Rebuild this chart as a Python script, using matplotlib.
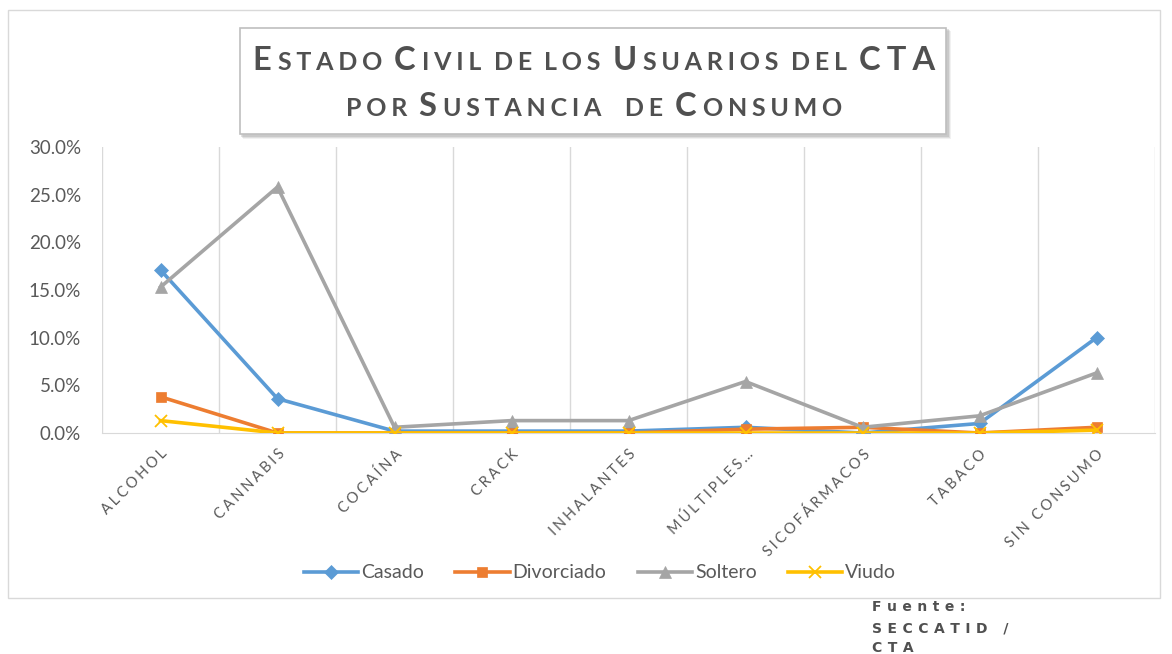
import matplotlib
matplotlib.use("Agg")
import matplotlib.pyplot as plt
from matplotlib.patches import Rectangle
from matplotlib.offsetbox import TextArea, HPacker, AnnotationBbox
from matplotlib.ticker import PercentFormatter

categories = ["ALCOHOL", "CANNABIS", "COCAÍNA", "CRACK", "INHALANTES",
              "MÚLTIPLES…", "SICOFÁRMACOS", "TABACO", "SIN CONSUMO"]
casado = [17.1, 3.6, 0.2, 0.2, 0.2, 0.6, 0.0, 1.0, 10.0]
divorciado = [3.8, 0.0, 0.0, 0.0, 0.0, 0.4, 0.6, 0.0, 0.6]
soltero = [15.3, 25.8, 0.6, 1.3, 1.3, 5.4, 0.6, 1.8, 6.3]
viudo = [1.3, 0.0, 0.0, 0.0, 0.0, 0.0, 0.0, 0.0, 0.3]
yticks = [0, 5, 10, 15, 20, 25, 30]

FONT = ["Lato", "DejaVu Sans"]
W, H = 1172, 654
fig = plt.figure(figsize=(W / 100, H / 100), dpi=100)
fig.patch.set_facecolor("white")

def fx(px):
    return px / W

def fy(py):
    return 1 - py / H

def spread(s, sep="\u2009"):
    return sep.join(list(s))

# outer chart frame
fig.add_artist(Rectangle((fx(8), fy(598)), fx(1160) - fx(8), fy(10) - fy(598),
                         transform=fig.transFigure, fill=False, edgecolor="#D9D9D9", lw=1))

ax = fig.add_axes([fx(102), fy(433), fx(1155) - fx(102), fy(147) - fy(433)])
x = list(range(len(categories)))
series = [
    ("Casado", casado, "#5B9BD5", "D", 7),
    ("Divorciado", divorciado, "#ED7D31", "s", 7),
    ("Soltero", soltero, "#A5A5A5", "^", 8),
    ("Viudo", viudo, "#FFC000", "x", 9),
]
for name, vals, col, mk, ms in series:
    ax.plot(x, vals, color=col, lw=2.6, marker=mk, markersize=ms,
            markeredgewidth=1.3 if mk == "x" else 0.5, markeredgecolor=col,
            markerfacecolor=col, label=name, solid_joinstyle="round", zorder=3)

ax.set_xlim(-0.5, len(categories) - 0.5)
ax.set_ylim(0, 30)
ax.set_yticks(yticks)
ax.yaxis.set_major_formatter(PercentFormatter(decimals=1))
for b in [i - 0.5 for i in range(len(categories) + 1)]:
    ax.axvline(b, color="#D9D9D9", lw=1, zorder=1)
for s in ["top", "right", "left"]:
    ax.spines[s].set_visible(False)
ax.spines["bottom"].set_color("#D9D9D9")
ax.tick_params(axis="y", length=0, pad=15, labelsize=13.5, labelcolor="#595959")
ax.tick_params(axis="x", length=0, pad=10)
for lab in ax.get_yticklabels():
    lab.set_fontfamily(FONT)
ax.set_xticks(x)
ax.set_xticklabels([spread(c, "\u2009\u200a") for c in categories], rotation=45, ha="right",
                   va="top", rotation_mode="anchor", fontsize=10.5, color="#595959", family=FONT)

leg = fig.legend(loc="center", bbox_to_anchor=(fx(600), fy(573)), ncol=4, frameon=False,
                 handlelength=2.8, columnspacing=1.6, handletextpad=0.15,
                 prop={"family": FONT, "size": 14})
for t in leg.get_texts():
    t.set_color("#595959")

# title box with shadow
for i, a in enumerate([0.10, 0.16, 0.22]):
    off = 3 - i
    fig.add_artist(Rectangle((fx(240 + off), fy(136 + off)), fx(948) - fx(240), fy(28) - fy(136),
                             transform=fig.transFigure, facecolor="#7F7F7F", alpha=a,
                             edgecolor="none"))
fig.add_artist(Rectangle((fx(240), fy(134)), fx(946) - fx(240), fy(28) - fy(134),
                         transform=fig.transFigure, facecolor="white", edgecolor="#BFBFBF", lw=1.2))

TCOL = "#505050"
LSEP = "\u2009\u200a"

def smallcaps(words, big=23.5, small=18):
    children = []
    props_big = dict(size=big, color=TCOL, family=FONT, weight="bold")
    props_small = dict(size=small, color=TCOL, family=FONT, weight="bold")
    for wi, w in enumerate(words):
        cap_first, rest = w
        if cap_first:
            children.append(TextArea(spread(cap_first, LSEP) + (LSEP if rest else ""),
                                     textprops=props_big))
        if rest:
            children.append(TextArea(spread(rest, LSEP), textprops=props_small))
        if wi < len(words) - 1:
            children.append(TextArea("  ", textprops=props_small))
    return HPacker(children=children, align="baseline", pad=0, sep=0)

line1 = smallcaps([("E", "STADO"), ("C", "IVIL"), ("", "DE"), ("", "LOS"), ("U", "SUARIOS"),
                   ("", "DEL"), ("CTA", "")])
line2 = smallcaps([("", "POR"), ("S", "USTANCIA"), ("", " DE"), ("C", "ONSUMO")])
for box, py in [(line1, 60), (line2, 106)]:
    ab = AnnotationBbox(box, (fx(594), fy(py)), xycoords="figure fraction", frameon=False,
                        box_alignment=(0.5, 0.5), pad=0)
    fig.add_artist(ab)

# source note
for txt, py in [("Fuente:", 607), ("SECCATID /", 628), ("CTA", 648)]:
    fig.text(fx(872), fy(py), spread(txt, "\u2009\u2009"), fontsize=10, color="#505050",
             family="DejaVu Sans", fontweight="bold", ha="left", va="center")

fig.savefig("out.png", dpi=100)
